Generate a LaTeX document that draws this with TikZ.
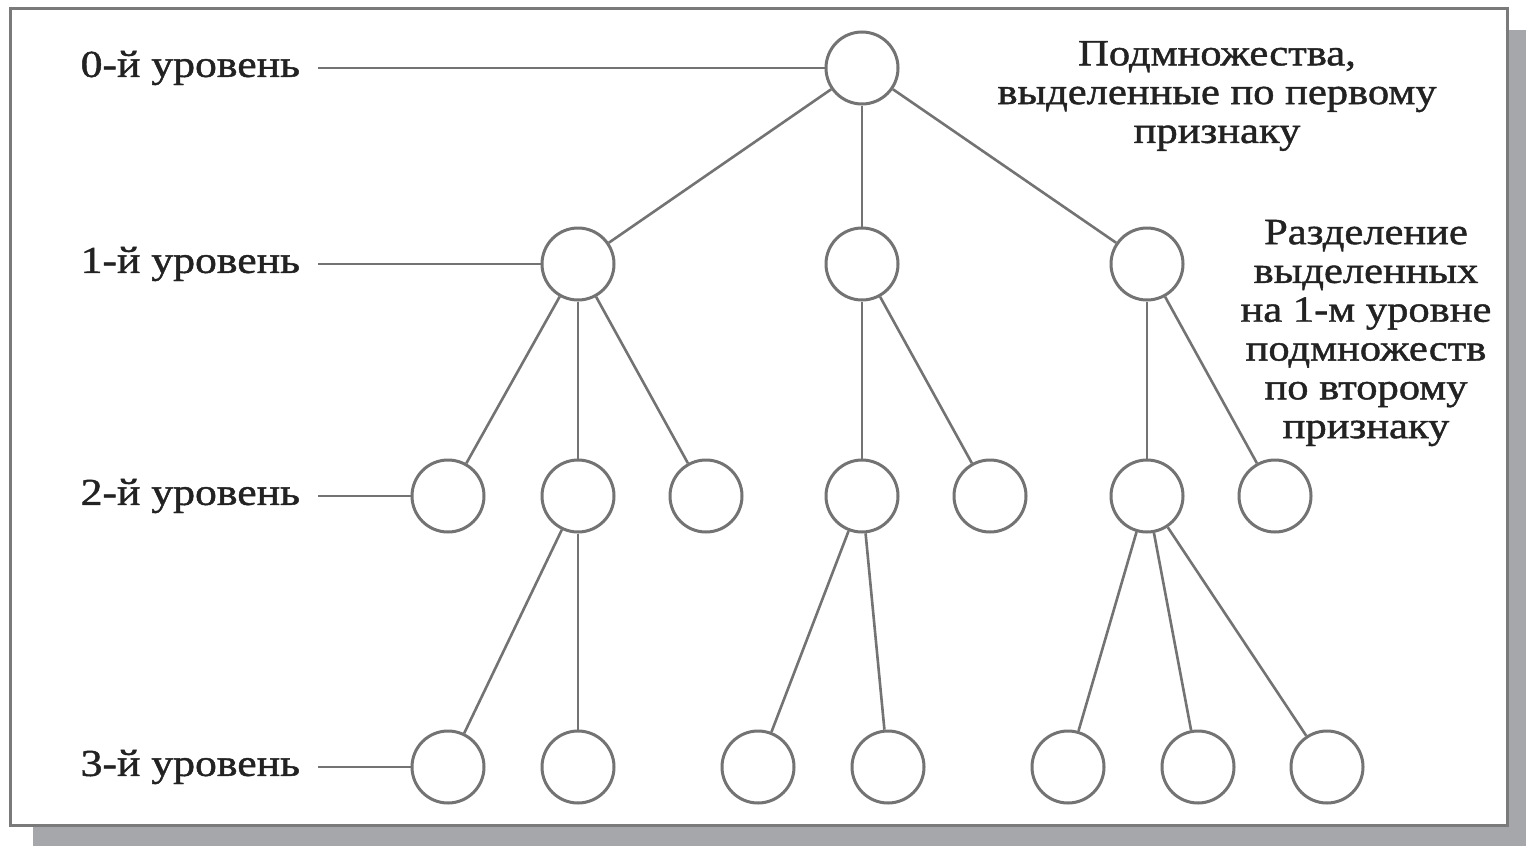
\documentclass[tikz,border=0pt]{standalone}
\usepackage{fontspec}
\setmainfont[FakeStretch=1.15,FakeBold=1.2]{Liberation Serif}
\begin{document}
\begin{tikzpicture}[x=1pt,y=-1pt,
  nd/.style={draw=linegray,line width=3pt,circle,minimum size=72pt,inner sep=0pt,fill=white},
  edge/.style={draw=linegray,line width=2.6pt},
  lvl/.style={anchor=east,inner xsep=0pt,outer xsep=18pt,text=txt,font=\fontsize{38}{38}\selectfont},
  note/.style={align=center,text=txt,font=\fontsize{37}{38.8}\selectfont,inner sep=0pt}
]
\definecolor{linegray}{HTML}{737373}
\definecolor{txt}{HTML}{222222}
\definecolor{shadow}{HTML}{A6A7AB}
\definecolor{frame}{HTML}{7A7A7A}
\useasboundingbox (0,0) rectangle (1526,846);
\fill[shadow] (33,30) rectangle (1526,846);
\draw[frame,line width=3pt,fill=white] (10,8) rectangle (1507,825);

% level 0
\node[nd] (r) at (862,68) {};
% level 1
\node[nd] (a) at (578,264) {};
\node[nd] (b) at (862,264) {};
\node[nd] (c) at (1147,264) {};
% level 2
\node[nd] (a1) at (448,496) {};
\node[nd] (a2) at (578,496) {};
\node[nd] (a3) at (706,496) {};
\node[nd] (b1) at (862,496) {};
\node[nd] (b2) at (990,496) {};
\node[nd] (c1) at (1147,496) {};
\node[nd] (c2) at (1275,496) {};
% level 3
\node[nd] (d1) at (448,767) {};
\node[nd] (d2) at (578,767) {};
\node[nd] (e1) at (758,767) {};
\node[nd] (e2) at (888,767) {};
\node[nd] (f1) at (1068,767) {};
\node[nd] (f2) at (1198,767) {};
\node[nd] (f3) at (1327,767) {};

\draw[edge] (r) -- (a);
\draw[edge] (r) -- (b);
\draw[edge] (r) -- (c);
\draw[edge] (a) -- (a1);
\draw[edge] (a) -- (a2);
\draw[edge] (a) -- (a3);
\draw[edge] (b) -- (b1);
\draw[edge] (b) -- (b2);
\draw[edge] (c) -- (c1);
\draw[edge] (c) -- (c2);
\draw[edge] (a2) -- (d1);
\draw[edge] (a2) -- (d2);
\draw[edge] (b1) -- (e1);
\draw[edge] (b1) -- (e2);
\draw[edge] (c1) -- (f1);
\draw[edge] (c1) -- (f2);
\draw[edge] (c1) -- (f3);

% level labels
\node[lvl] (l0) at (318,68) {0-й уровень};
\node[lvl] (l1) at (318,264) {1-й уровень};
\node[lvl] (l2) at (318,496) {2-й уровень};
\node[lvl] (l3) at (318,767) {3-й уровень};
\draw[edge] (l0.east) -- (r);
\draw[edge] (l1.east) -- (a);
\draw[edge] (l2.east) -- (a1);
\draw[edge] (l3.east) -- (d1);

% notes
\node[note] (t1) at (1217,96) {Подмножества,\\выделенные по первому\\признаку};
\node[note] (t2) at (1366,333) {Разделение\\выделенных\\на 1-м уровне\\подмножеств\\по второму\\признаку};
\end{tikzpicture}
\end{document}
